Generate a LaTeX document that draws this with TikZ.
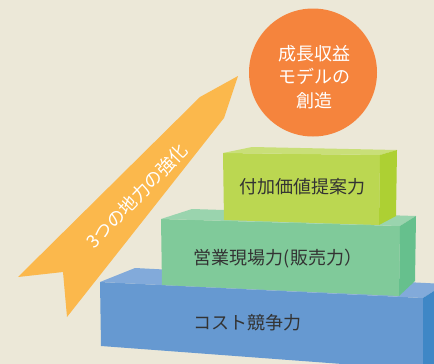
\documentclass[tikz,border=0pt]{standalone}
\usepackage{fontspec}
\newfontfamily\jpfont{Noto Sans CJK JP}
\usetikzlibrary{math}

\definecolor{bgbeige}{HTML}{ECE8D8}
\definecolor{arroworange}{HTML}{FBB84C}
\definecolor{circleorange}{HTML}{F5843D}
\definecolor{blueFront}{HTML}{6699D1}
\definecolor{blueTop}{HTML}{82AADA}
\definecolor{blueSide}{HTML}{3F87C6}
\definecolor{greenFront}{HTML}{80CA9A}
\definecolor{greenTop}{HTML}{9AD4AE}
\definecolor{greenSide}{HTML}{66C08D}
\definecolor{limeFront}{HTML}{BBD751}
\definecolor{limeTop}{HTML}{C9DF78}
\definecolor{limeSide}{HTML}{ADD033}
\definecolor{textgray}{HTML}{333333}

\tikzset{
  boxtext/.style={text=textgray, font=\jpfont\fontsize{18}{22}\selectfont},
  whitetext/.style={text=white, font=\jpfont\fontsize{18}{23.5}\selectfont, align=center}
}

\begin{document}
\begin{tikzpicture}[x=1pt, y=-1pt]
  \tikzmath{\r = 64;}
  \useasboundingbox (0, 0) rectangle (434, 364);
  \clip (0, 0) rectangle (434, 364);
  \fill[bgbeige] (0, 0) rectangle (434, 364);

  \fill[arroworange] (18, 277) -- (200, 97) -- (238, 76) -- (224, 118) -- (67, 317) -- (63, 272) -- cycle;
  \node[whitetext, rotate=46] (strength) at (137, 196) {3つの地力の強化};

  \fill[circleorange] (313, 72.5) circle (\r);
  \node[whitetext] (growth) at (314, 77) {成長収益\\モデルの\\創造};

  \fill[blueFront] (100, 282) -- (423, 298) -- (423, 370) -- (101, 346) -- cycle;
  \fill[blueTop] (100, 282) -- (135, 268) -- (445, 284) -- (423, 298) -- cycle;
  \fill[blueSide] (423, 298) -- (445, 284) -- (445, 370) -- (423, 370) -- cycle;
  \node[boxtext] (cost) at (247, 323) {コスト競争力};

  \fill[greenFront] (161, 219) -- (400, 226) -- (399, 296) -- (162, 285) -- cycle;
  \fill[greenTop] (161, 219) -- (192, 209) -- (416, 216) -- (400, 226) -- cycle;
  \fill[greenSide] (400, 226) -- (416, 216) -- (415, 281) -- (399, 296) -- cycle;
  \node[boxtext] (sales) at (278, 259) {営業現場力(販売力）};

  \fill[limeFront] (223, 153) -- (380, 155) -- (379, 225) -- (224, 220) -- cycle;
  \fill[limeTop] (223, 153) -- (252, 147) -- (397, 150) -- (380, 155) -- cycle;
  \fill[limeSide] (380, 155) -- (397, 150) -- (396, 216) -- (379, 225) -- cycle;
  \node[boxtext] (value) at (302, 187) {付加価値提案力};
\end{tikzpicture}
\end{document}
